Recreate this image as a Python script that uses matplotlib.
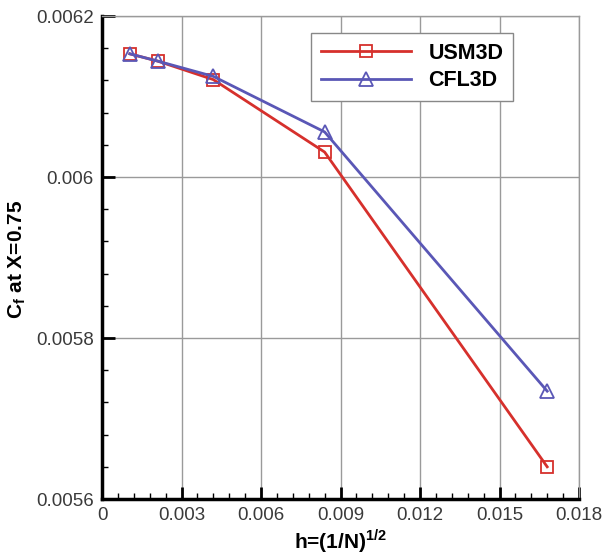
import matplotlib
matplotlib.use('Agg')
import matplotlib.pyplot as plt
from matplotlib.ticker import AutoMinorLocator

plt.rcParams['font.family'] = ['Liberation Sans', 'DejaVu Sans']
plt.rcParams['mathtext.fontset'] = 'custom'
plt.rcParams['mathtext.rm'] = 'Liberation Sans'
plt.rcParams['mathtext.bf'] = 'Liberation Sans:bold'

# grid spacing h and skin friction at X=0.75
h = [0.00105, 0.0021, 0.0042, 0.0084, 0.0168]
cf_usm3d = [0.006153, 0.006144, 0.006121, 0.006031, 0.005640]
cf_cfl3d = [0.006153, 0.006144, 0.006125, 0.006056, 0.005734]

xticks = [0, 0.003, 0.006, 0.009, 0.012, 0.015, 0.018]
xlabels = ['0', '0.003', '0.006', '0.009', '0.012', '0.015', '0.018']
yticks = [0.0056, 0.0058, 0.006, 0.0062]
ylabels = ['0.0056', '0.0058', '0.006', '0.0062']

red = '#d6302c'
blue = '#5a57b6'

fig = plt.figure(figsize=(6.03, 5.56), dpi=100)
ax = fig.add_axes([0.1692, 0.1025, 0.791, 0.8687])

ax.plot(h, cf_usm3d, color=red, lw=2, marker='s', ms=8.5, mfc='none',
        mec=red, mew=1.3, label='USM3D', zorder=3)
ax.plot(h, cf_cfl3d, color=blue, lw=2, marker='^', ms=10, mfc='none',
        mec=blue, mew=1.3, label='CFL3D', zorder=3)

ax.set_xlim(0, 0.018)
ax.set_ylim(0.0056, 0.0062)
ax.set_xticks(xticks)
ax.set_xticklabels(xlabels)
ax.set_yticks(yticks)
ax.set_yticklabels(ylabels)
ax.xaxis.set_minor_locator(AutoMinorLocator(5))
ax.yaxis.set_minor_locator(AutoMinorLocator(5))

ax.grid(True, which='major', color='#9a9a9a', lw=1)
ax.set_axisbelow(True)

# left/bottom are the real axes, top/right look like grid lines
for s in ['top', 'right']:
    ax.spines[s].set_color('#9a9a9a')
    ax.spines[s].set_linewidth(1)
ax.spines['left'].set_linewidth(2.5)
ax.spines['bottom'].set_linewidth(2.5)
ax.tick_params(which='major', direction='in', length=9, width=2,
               labelsize=13.5, labelcolor='#3a3a3a', pad=6)
ax.tick_params(which='minor', direction='in', length=4, width=1)

ax.set_xlabel(r'h=(1/N)$^{\mathbf{1/2}}$', fontsize=15, fontweight='bold')
ax.xaxis.set_label_coords(0.5, -0.058)
ax.set_ylabel(r'C$_{\mathbf{f}}$ at X=0.75', fontsize=15, fontweight='bold')
ax.yaxis.set_label_coords(-0.155, 0.495)

leg = ax.legend(loc='upper right', bbox_to_anchor=(0.862, 0.965),
                borderaxespad=0, prop={'weight': 'bold', 'size': 15.5},
                fancybox=False, edgecolor='#888888', framealpha=1,
                handlelength=4.2, borderpad=0.45, labelspacing=0.3,
                handletextpad=0.8)
leg.get_frame().set_linewidth(1)

fig.savefig('out.png', dpi=100)
